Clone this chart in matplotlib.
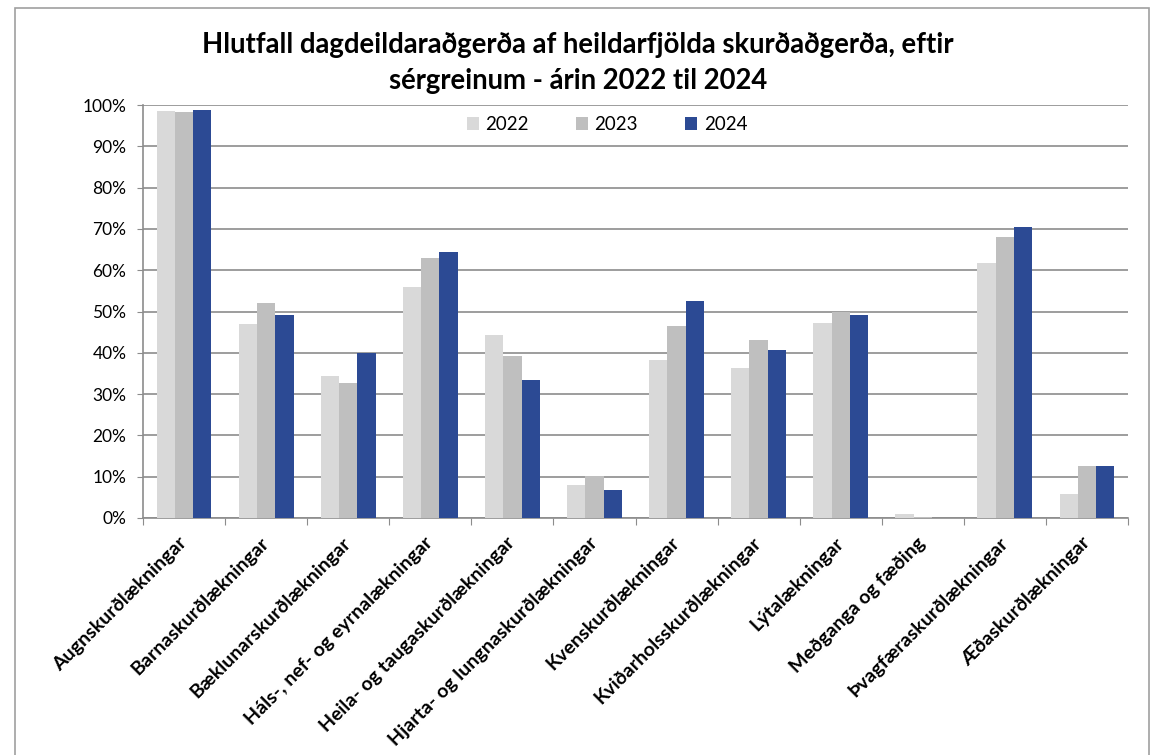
import numpy as np
import matplotlib
matplotlib.use('Agg')
import matplotlib.pyplot as plt
from matplotlib.patches import Rectangle

plt.rcParams['font.family'] = ['Lato', 'DejaVu Sans']

# gögn
flokkar = ['Augnskurðlækningar', 'Barnaskurðlækningar', 'Bæklunarskurðlækningar',
           'Háls-, nef- og eyrnalækningar', 'Heila- og taugaskurðlækningar',
           'Hjarta- og lungnaskurðlækningar', 'Kvenskurðlækningar',
           'Kviðarholsskurðlækningar', 'Lýtalækningar', 'Meðganga og fæðing',
           'Þvagfæraskurðlækningar', 'Æðaskurðlækningar']
ar = ['2022', '2023', '2024']
v2022 = [98.6, 47.0, 34.3, 55.9, 44.3, 7.9, 38.2, 36.2, 47.3, 0.9, 61.7, 5.9]
v2023 = [98.4, 52.0, 32.6, 62.9, 39.3, 10.1, 46.6, 43.2, 49.9, 0.35, 68.0, 12.5]
v2024 = [98.7, 49.2, 40.0, 64.4, 33.3, 6.8, 52.5, 40.6, 49.2, 0.0, 70.5, 12.6]
y_ticks = [0, 10, 20, 30, 40, 50, 60, 70, 80, 90, 100]

litir = ['#D9D9D9', '#BFBFBF', '#2C4A94']
grid_col = '#8C8C8C'

fig = plt.figure(figsize=(11.51, 7.55), dpi=100)
ax = fig.add_axes([143/1151, 1-518/755, (1128-143)/1151, (518-105)/755])

x = np.arange(len(flokkar))
b = 0.223
for i, (vals, c) in enumerate(zip([v2022, v2023, v2024], litir)):
    ax.bar(x + (i-1)*b, vals, width=b, color=c, label=ar[i], zorder=3)

ax.set_xlim(-0.5, len(flokkar)-0.5)
ax.set_ylim(0, 100)
ax.set_yticks(y_ticks)
ax.set_yticklabels([f'{t}%' for t in y_ticks], fontsize=12.5)
ax.yaxis.grid(True, color=grid_col, linewidth=1.2, zorder=0)
ax.tick_params(axis='y', length=4, color=grid_col, pad=8)

# x ás: strik á milli flokka, merki í miðju
ax.set_xticks(np.arange(len(flokkar)+1) - 0.5)
ax.set_xticklabels([])
ax.set_xticks(x, minor=True)
ax.set_xticklabels(flokkar, minor=True, rotation=45, ha='right', va='center',
                   rotation_mode='anchor', fontsize=14, fontweight='bold')
ax.tick_params(axis='x', which='major', length=5, color=grid_col)
ax.tick_params(axis='x', which='minor', length=0, pad=16)

for s in ['top', 'right']:
    ax.spines[s].set_visible(False)
for s in ['left', 'bottom']:
    ax.spines[s].set_color(grid_col)
    ax.spines[s].set_linewidth(1.2)

ax.legend(loc='center', bbox_to_anchor=(0.471, 0.952), ncol=3, frameon=False,
          fontsize=13.5, handlelength=0.65, handleheight=0.65, columnspacing=2.5,
          handletextpad=0.35)

fig.text(0.502, 1-63/755, 'Hlutfall dagdeildaraðgerða af heildarfjölda skurðaðgerða, eftir\n'
         'sérgreinum - árin 2022 til 2024', ha='center', va='center',
         fontsize=19.8, fontweight='bold', linespacing=1.5)

# rammi utan um myndina
fig.add_artist(Rectangle((15/1151, -0.05), (1149-15)/1151, 1.05-8/755,
                         transform=fig.transFigure, fill=False,
                         edgecolor='#A0A0A0', linewidth=1.2))

fig.savefig('out.png', dpi=100)
